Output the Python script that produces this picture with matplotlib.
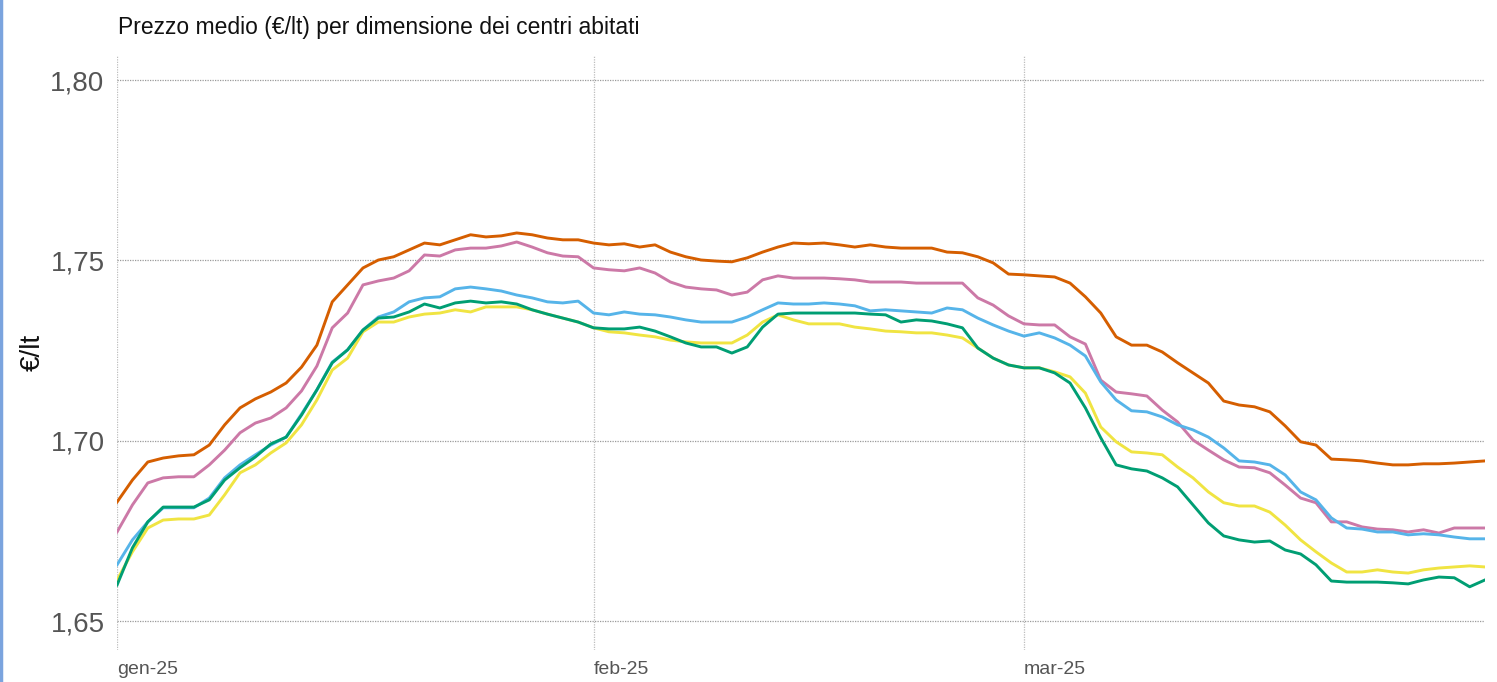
import matplotlib.pyplot as plt
import pandas as pd
from matplotlib.lines import Line2D
from matplotlib.ticker import FuncFormatter


TITLE = "Prezzo medio (€/lt) per dimensione dei centri abitati"
Y_LABEL = "€/lt"

START_DATE = "2025-01-01"
END_DATE = "2025-03-31"

MONTH_TICKS = ["2025-01-01", "2025-02-01", "2025-03-01"]
MONTH_LABELS = ["gen-25", "feb-25", "mar-25"]

Y_TICKS = [1.65, 1.70, 1.75, 1.80]

# daily average price (EUR/lt), 1 Jan -> 31 Mar 2025
orange_series = [
    1.6830, 1.6891, 1.6941, 1.6952, 1.6958, 1.6961, 1.6988, 1.7044, 1.7091, 1.7116,
    1.7135, 1.7160, 1.7204, 1.7265, 1.7385, 1.7432, 1.7479, 1.7501, 1.7510, 1.7529,
    1.7548, 1.7543, 1.7557, 1.7571, 1.7565, 1.7568, 1.7576, 1.7571, 1.7562, 1.7557,
    1.7557, 1.7548, 1.7543, 1.7546, 1.7537, 1.7543, 1.7523, 1.7510, 1.7501, 1.7498,
    1.7496, 1.7507, 1.7523, 1.7537, 1.7548, 1.7546, 1.7548, 1.7543, 1.7537, 1.7543,
    1.7537, 1.7534, 1.7534, 1.7534, 1.7523, 1.7521, 1.7510, 1.7493, 1.7462, 1.7460,
    1.7457, 1.7454, 1.7437, 1.7399, 1.7354, 1.7288, 1.7265, 1.7265, 1.7246, 1.7216,
    1.7188, 1.7160, 1.7110, 1.7099, 1.7094, 1.7080, 1.7041, 1.6997, 1.6988, 1.6949,
    1.6947, 1.6944, 1.6938, 1.6933, 1.6933, 1.6936, 1.6936, 1.6938, 1.6941, 1.6944,
]

pink_series = [
    1.6747, 1.6822, 1.6883, 1.6897, 1.6900, 1.6900, 1.6933, 1.6974, 1.7022, 1.7049,
    1.7063, 1.7091, 1.7138, 1.7207, 1.7313, 1.7354, 1.7432, 1.7443, 1.7451, 1.7471,
    1.7515, 1.7512, 1.7529, 1.7534, 1.7534, 1.7540, 1.7551, 1.7537, 1.7521, 1.7512,
    1.7510, 1.7479, 1.7474, 1.7471, 1.7479, 1.7465, 1.7440, 1.7426, 1.7421, 1.7418,
    1.7404, 1.7412, 1.7446, 1.7457, 1.7451, 1.7451, 1.7451, 1.7449, 1.7446, 1.7440,
    1.7440, 1.7440, 1.7437, 1.7437, 1.7437, 1.7437, 1.7396, 1.7376, 1.7346, 1.7324,
    1.7321, 1.7321, 1.7288, 1.7268, 1.7168, 1.7135, 1.7130, 1.7124, 1.7085, 1.7052,
    1.7002, 1.6974, 1.6947, 1.6927, 1.6925, 1.6911, 1.6877, 1.6841, 1.6828, 1.6775,
    1.6775, 1.6761, 1.6755, 1.6753, 1.6747, 1.6753, 1.6744, 1.6758, 1.6758, 1.6758,
]

blue_series = [
    1.6656, 1.6725, 1.6775, 1.6814, 1.6814, 1.6814, 1.6841, 1.6897, 1.6933, 1.6961,
    1.6988, 1.7010, 1.7074, 1.7141, 1.7218, 1.7252, 1.7307, 1.7343, 1.7357, 1.7385,
    1.7396, 1.7399, 1.7421, 1.7426, 1.7421, 1.7415, 1.7404, 1.7396, 1.7385, 1.7382,
    1.7387, 1.7354, 1.7349, 1.7357, 1.7351, 1.7349, 1.7343, 1.7335, 1.7329, 1.7329,
    1.7329, 1.7343, 1.7363, 1.7382, 1.7379, 1.7379, 1.7382, 1.7379, 1.7374, 1.7360,
    1.7363, 1.7360, 1.7357, 1.7354, 1.7368, 1.7363, 1.7340, 1.7321, 1.7304, 1.7290,
    1.7299, 1.7285, 1.7265, 1.7235, 1.7163, 1.7113, 1.7083, 1.7080, 1.7066, 1.7044,
    1.7030, 1.7010, 1.6980, 1.6944, 1.6941, 1.6933, 1.6905, 1.6858, 1.6836, 1.6786,
    1.6758, 1.6755, 1.6747, 1.6747, 1.6739, 1.6742, 1.6739, 1.6733, 1.6728, 1.6728,
]

yellow_series = [
    1.6614, 1.6692, 1.6758, 1.6780, 1.6783, 1.6783, 1.6794, 1.6850, 1.6911, 1.6933,
    1.6966, 1.6994, 1.7044, 1.7113, 1.7196, 1.7229, 1.7302, 1.7329, 1.7329, 1.7343,
    1.7351, 1.7354, 1.7363, 1.7357, 1.7371, 1.7371, 1.7371, 1.7363, 1.7351, 1.7340,
    1.7329, 1.7313, 1.7302, 1.7299, 1.7293, 1.7288, 1.7279, 1.7274, 1.7271, 1.7271,
    1.7271, 1.7293, 1.7329, 1.7349, 1.7335, 1.7324, 1.7324, 1.7324, 1.7315, 1.7310,
    1.7304, 1.7302, 1.7299, 1.7299, 1.7293, 1.7285, 1.7257, 1.7229, 1.7210, 1.7202,
    1.7202, 1.7191, 1.7177, 1.7132, 1.7038, 1.6997, 1.6969, 1.6966, 1.6961, 1.6927,
    1.6897, 1.6858, 1.6828, 1.6819, 1.6819, 1.6802, 1.6766, 1.6725, 1.6692, 1.6661,
    1.6636, 1.6636, 1.6642, 1.6636, 1.6633, 1.6642, 1.6647, 1.6650, 1.6653, 1.6650,
]

green_series = [
    1.6600, 1.6703, 1.6775, 1.6816, 1.6816, 1.6816, 1.6836, 1.6891, 1.6925, 1.6955,
    1.6991, 1.7010, 1.7071, 1.7141, 1.7216, 1.7252, 1.7307, 1.7340, 1.7343, 1.7357,
    1.7379, 1.7368, 1.7382, 1.7387, 1.7382, 1.7385, 1.7379, 1.7363, 1.7351, 1.7340,
    1.7329, 1.7313, 1.7310, 1.7310, 1.7315, 1.7304, 1.7288, 1.7271, 1.7260, 1.7260,
    1.7243, 1.7260, 1.7315, 1.7351, 1.7354, 1.7354, 1.7354, 1.7354, 1.7354, 1.7351,
    1.7349, 1.7329, 1.7335, 1.7332, 1.7324, 1.7313, 1.7257, 1.7229, 1.7210, 1.7202,
    1.7202, 1.7188, 1.7160, 1.7091, 1.7008, 1.6933, 1.6922, 1.6916, 1.6897, 1.6872,
    1.6822, 1.6772, 1.6736, 1.6725, 1.6719, 1.6722, 1.6697, 1.6686, 1.6656, 1.6611,
    1.6608, 1.6608, 1.6608, 1.6606, 1.6603, 1.6614, 1.6622, 1.6620, 1.6595, 1.6614,
]

SERIES_COLORS = [
    (orange_series, "#D55E00"),
    (pink_series, "#CC79A7"),
    (blue_series, "#56B4E9"),
    (yellow_series, "#F0E442"),
    (green_series, "#009E73"),
]


def comma_decimal(value, _pos):
    return f"{value:.2f}".replace(".", ",")


def plot_prices(output_file: str) -> None:
    dates = pd.date_range(START_DATE, END_DATE, freq="D")

    fig = plt.figure(figsize=(14.97, 6.82), dpi=100)
    ax = fig.add_axes([0.0782, 0.0469, 0.9138, 0.8724])

    for values, color in SERIES_COLORS:
        ax.plot(dates, values, color=color, linewidth=2.1, solid_joinstyle="round")

    ax.set_xlim(dates[0], dates[-1])
    ax.set_ylim(1.64197, 1.80693)

    ax.set_yticks(Y_TICKS)
    ax.yaxis.set_major_formatter(FuncFormatter(comma_decimal))
    ax.set_xticks(pd.to_datetime(MONTH_TICKS))
    ax.set_xticklabels(MONTH_LABELS)

    ax.tick_params(axis="y", length=0, pad=9, labelsize=20, labelcolor="#555555")
    ax.tick_params(axis="x", length=0, pad=8, labelsize=14, labelcolor="#555555")
    for label in ax.get_xticklabels():
        label.set_horizontalalignment("left")

    ax.grid(axis="y", color="#9a9a9a", linestyle=(0, (1.0, 1.0)), linewidth=0.9)
    ax.grid(axis="x", color="#bdbdbd", linestyle=(0, (1.0, 1.0)), linewidth=0.9)
    ax.set_axisbelow(True)

    for spine in ax.spines.values():
        spine.set_visible(False)

    ax.set_ylabel(Y_LABEL, fontsize=20, color="#111111")
    ax.yaxis.set_label_coords(-0.052, 0.5)

    fig.text(0.0788, 0.9604, TITLE, fontsize=16.5, color="#111111",
             ha="left", va="center")

    # thin blue frame edge visible on the left of the original screenshot
    fig.add_artist(Line2D([0.001, 0.001], [0, 1], transform=fig.transFigure,
                          color="#7BA4DE", linewidth=2.5))

    fig.savefig(output_file, dpi=100)
    plt.close(fig)


def main() -> None:
    plt.rcParams["font.family"] = ["Liberation Sans", "DejaVu Sans"]
    plot_prices("out.png")


if __name__ == "__main__":
    main()
